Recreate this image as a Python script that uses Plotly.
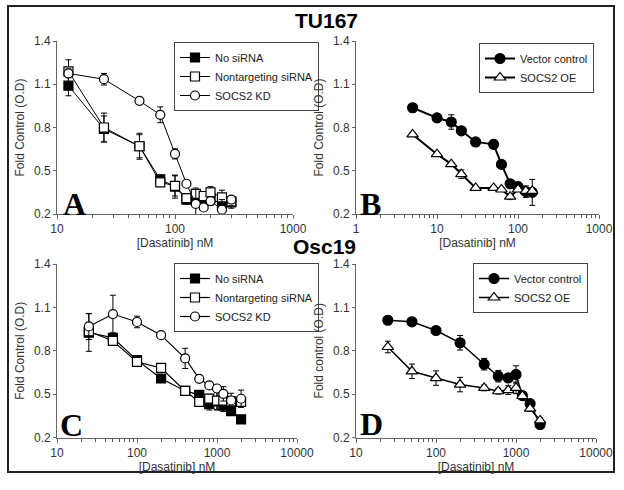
import plotly.graph_objects as go

# ---- data ----
# TU167, siRNA knock-down (panel A)
a_conc = [12.5, 25, 50, 75, 100, 125, 150, 175, 200, 250, 300]
a_no = [1.09, 0.79, 0.67, 0.44, 0.39, 0.30, 0.31, 0.30, 0.31, 0.265, 0.28]
a_no_err = [0.07, 0.09, 0.08, 0.03, 0.08, 0.03, 0.05, 0.04, 0.04, 0.05, 0.04]
a_nt = [1.19, 0.80, 0.67, 0.42, 0.395, 0.31, 0.34, 0.325, 0.35, 0.315, 0.287]
a_nt_err = [0.08, 0.10, 0.09, 0.02, 0.07, 0.03, 0.04, 0.03, 0.04, 0.05, 0.03]
a_kd = [1.175, 1.135, 0.985, 0.888, 0.617, 0.41, 0.27, 0.245, 0.29, 0.23, 0.30]
a_kd_err = [0.03, 0.04, 0.02, 0.055, 0.035, 0.02, 0.10, 0.02, 0.03, 0.07, 0.02]

# TU167, over-expression (panel B)
b_conc = [5, 10, 15, 20, 30, 50, 62.5, 80, 100, 125, 150]
b_vec = [0.937, 0.867, 0.838, 0.777, 0.70, 0.683, 0.544, 0.41, 0.39, 0.355, 0.35]
b_vec_err = [0.03, 0.03, 0.05, 0.02, 0.02, 0.03, 0.02, 0.02, 0.03, 0.04, 0.09]
b_oe = [0.752, 0.615, 0.546, 0.476, 0.381, 0.381, 0.37, 0.32, 0.37, 0.36, 0.36]
b_oe_err = [0.01, 0.01, 0.01, 0.03, 0.01, 0.01, 0.01, 0.02, 0.01, 0.02, 0.02]

# Osc19, siRNA knock-down (panel C)
c_conc = [25, 50, 100, 200, 400, 600, 800, 1000, 1200, 1500, 2000]
c_no = [0.926, 0.889, 0.735, 0.608, 0.522, 0.495, 0.43, 0.45, 0.42, 0.383, 0.325]
c_no_err = [0.13, 0.03, 0.02, 0.02, 0.02, 0.02, 0.04, 0.06, 0.04, 0.03, 0.02]
c_nt = [0.935, 0.868, 0.723, 0.681, 0.522, 0.446, 0.469, 0.455, 0.455, 0.45, 0.446]
c_nt_err = [0.03, 0.03, 0.02, 0.02, 0.02, 0.02, 0.03, 0.06, 0.04, 0.03, 0.03]
c_kd = [0.968, 1.054, 0.999, 0.908, 0.747, 0.606, 0.56, 0.539, 0.502, 0.456, 0.468]
c_kd_err = [0.09, 0.13, 0.04, 0.02, 0.07, 0.02, 0.02, 0.02, 0.05, 0.05, 0.06]

# Osc19, over-expression (panel D)
d_conc = [25, 50, 100, 200, 400, 600, 800, 1000, 1200, 1500, 2000]
d_vec = [1.011, 1.0, 0.94, 0.855, 0.707, 0.624, 0.612, 0.636, 0.49, 0.434, 0.29]
d_vec_err = [0.03, 0.01, 0.01, 0.05, 0.04, 0.04, 0.02, 0.06, 0.02, 0.02, 0.03]
d_oe = [0.826, 0.658, 0.611, 0.566, 0.543, 0.52, 0.528, 0.543, 0.487, 0.40, 0.318]
d_oe_err = [0.04, 0.05, 0.05, 0.05, 0.02, 0.02, 0.03, 0.04, 0.02, 0.02, 0.02]

y_ticks = [0.2, 0.5, 0.8, 1.1, 1.4]

FONT = 'Arial, Liberation Sans, sans-serif'
W, H = 624, 490


def px_x(p):
    return p / W


def px_y(p):
    return (H - p) / H


def series(x, y, err, name, symbol, fill, lw, size, xa, ya, legend):
    return go.Scatter(
        x=x, y=y, name=name,
        mode='lines+markers',
        line=dict(color='black', width=lw),
        marker=dict(symbol=symbol, size=size, color=fill,
                    line=dict(color='black', width=1.2)),
        error_y=dict(type='data', array=err, color='black',
                     thickness=1, width=3),
        xaxis=xa, yaxis=ya, legend=legend,
        cliponaxis=False,
    )


fig = go.Figure()

# panel A
fig.add_trace(series(a_conc, a_no, a_no_err, 'No siRNA', 'square', 'black', 1, 9, 'x', 'y', 'legend'))
fig.add_trace(series(a_conc, a_nt, a_nt_err, 'Nontargeting siRNA', 'square', 'white', 1, 9, 'x', 'y', 'legend'))
fig.add_trace(series(a_conc, a_kd, a_kd_err, 'SOCS2 KD', 'circle', 'white', 1, 9, 'x', 'y', 'legend'))
# panel B
fig.add_trace(series(b_conc, b_vec, b_vec_err, 'Vector control', 'circle', 'black', 2, 10, 'x2', 'y2', 'legend2'))
fig.add_trace(series(b_conc, b_oe, b_oe_err, 'SOCS2 OE', 'triangle-up', 'white', 2, 10, 'x2', 'y2', 'legend2'))
# panel C
fig.add_trace(series(c_conc, c_no, c_no_err, 'No siRNA', 'square', 'black', 1.2, 9, 'x3', 'y3', 'legend3'))
fig.add_trace(series(c_conc, c_nt, c_nt_err, 'Nontargeting siRNA', 'square', 'white', 1.2, 9, 'x3', 'y3', 'legend3'))
fig.add_trace(series(c_conc, c_kd, c_kd_err, 'SOCS2 KD', 'circle', 'white', 1.2, 9, 'x3', 'y3', 'legend3'))
# panel D
fig.add_trace(series(d_conc, d_vec, d_vec_err, 'Vector control', 'circle', 'black', 1.5, 10, 'x4', 'y4', 'legend4'))
fig.add_trace(series(d_conc, d_oe, d_oe_err, 'SOCS2 OE', 'triangle-up', 'white', 1.5, 10, 'x4', 'y4', 'legend4'))


def xaxis(domain, decades, anchor):
    lo, hi = decades
    minor_vals = [m * 10 ** k for k in range(lo, hi) for m in range(2, 10)]
    return dict(
        type='log', domain=domain, range=[lo, hi], anchor=anchor,
        tickmode='linear', tick0=0, dtick=1, tickformat='d',
        showline=True, linecolor='#666', linewidth=1,
        ticks='outside', ticklen=4, tickcolor='#666',
        minor=dict(ticks='outside', ticklen=3, tickcolor='#555', tickwidth=1,
                   tickmode='array', tickvals=minor_vals, showgrid=False),
        showgrid=False, zeroline=False, automargin=False,
        tickfont=dict(family=FONT, size=12, color='#333'),
        title=dict(text='[Dasatinib] nM', standoff=2,
                   font=dict(family=FONT, size=12, color='#333')),
    )


def yaxis(domain, anchor, title):
    return dict(
        domain=domain, range=[0.2, 1.4], anchor=anchor,
        tickvals=y_ticks, ticktext=[f'{v:.1f}' for v in y_ticks],
        showline=True, linecolor='#666', linewidth=1,
        ticks='outside', ticklen=3, tickcolor='#666',
        showgrid=False, zeroline=False, automargin=False,
        tickfont=dict(family=FONT, size=12, color='#333'),
        title=dict(text=title, standoff=6,
                   font=dict(family=FONT, size=12, color='#333')),
    )


def legend(x, y):
    return dict(
        x=x, y=y, xanchor='left', yanchor='top',
        bgcolor='white', bordercolor='#444', borderwidth=1,
        font=dict(family=FONT, size=11, color='#222'),
        itemwidth=30, tracegroupgap=0,
    )


top = [px_y(214), px_y(41)]
bot = [px_y(437.5), px_y(264)]

fig.update_layout(
    width=W, height=H,
    margin=dict(l=0, r=0, t=0, b=0, autoexpand=False),
    paper_bgcolor='white', plot_bgcolor='white',
    xaxis=xaxis([px_x(57), px_x(293)], (1, 3), 'y'),
    yaxis=yaxis(top, 'x', 'Fold Control (O.D)'),
    xaxis2=xaxis([px_x(356), px_x(599)], (0, 3), 'y2'),
    yaxis2=yaxis(top, 'x2', 'Fold Control (O.D)'),
    xaxis3=xaxis([px_x(57), px_x(297)], (1, 4), 'y3'),
    yaxis3=yaxis(bot, 'x3', 'Fold Control (O.D)'),
    xaxis4=xaxis([px_x(356), px_x(596)], (1, 4), 'y4'),
    yaxis4=yaxis(bot, 'x4', 'Fold control (O.D)'),
    legend=legend(px_x(174), px_y(42)),
    legend2=legend(px_x(479), px_y(43)),
    legend3=legend(px_x(174), px_y(263)),
    legend4=legend(px_x(473), px_y(263)),
    showlegend=True,
)

# cell-line headings and panel letters
for text, x, y in [('TU167', 326, 20), ('Osc19', 324, 246)]:
    fig.add_annotation(
        text=f'<b>{text}</b>', x=px_x(x), y=px_y(y), xref='paper', yref='paper',
        xanchor='center', yanchor='middle',
        showarrow=False, font=dict(family=FONT, size=21, color='black'),
    )
for text, x, y in [('A', 74, 204), ('B', 370, 204), ('C', 71, 425), ('D', 371, 424)]:
    fig.add_annotation(
        text=f'<b>{text}</b>', x=px_x(x), y=px_y(y), xref='paper', yref='paper',
        xanchor='center', yanchor='middle', showarrow=False,
        font=dict(family='Liberation Serif, Times New Roman, serif', size=32, color='black'),
    )

# outer frame
fig.add_shape(
    type='rect', xref='paper', yref='paper',
    x0=px_x(8), x1=px_x(614), y0=px_y(472), y1=px_y(6),
    line=dict(color='#222', width=2),
)

# drop the default body margin so the 624x490 figure fills the window exactly
fig.write_html('out.html', config={'displayModeBar': False},
               post_script="document.body.style.margin='0';")
